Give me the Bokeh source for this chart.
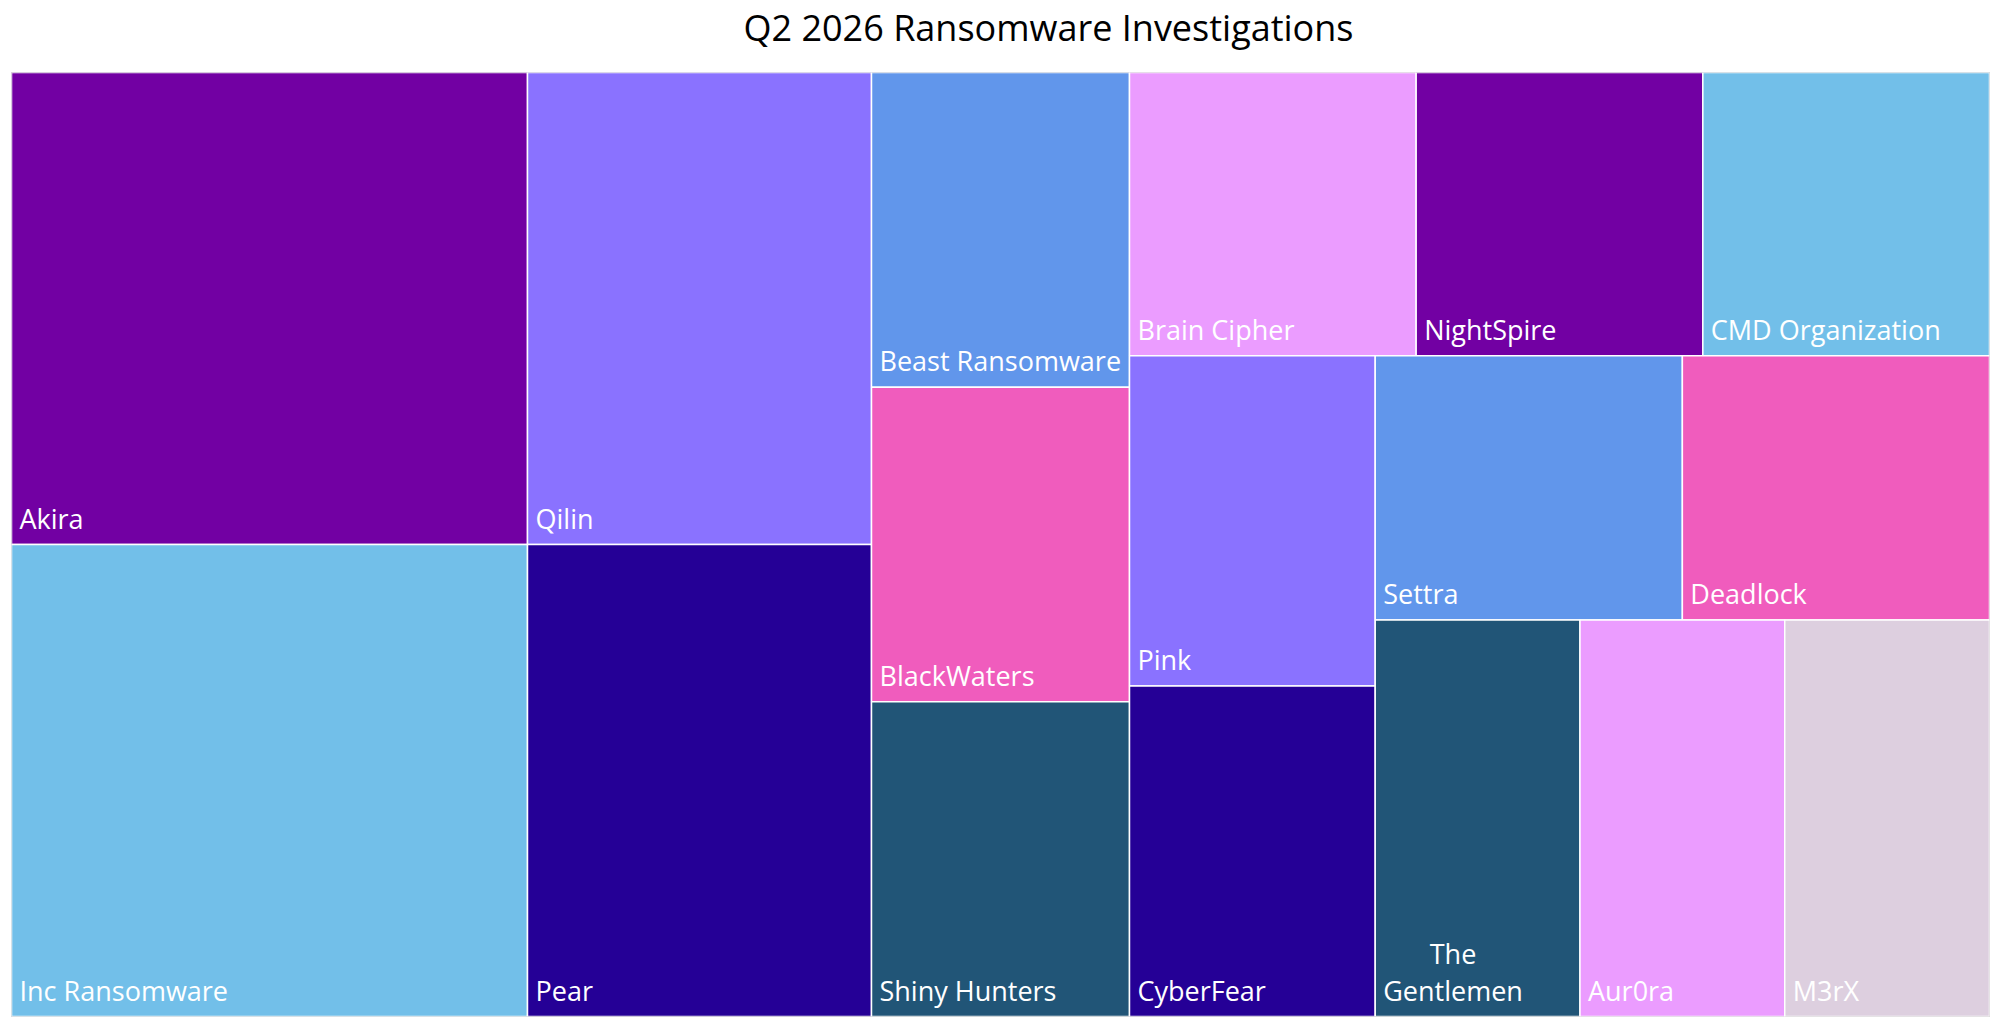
from bokeh.plotting import figure
from bokeh.models import ColumnDataSource, Range1d, Title
from bokeh.core.properties import value
from bokeh.embed import file_html
from bokeh.resources import INLINE

groups = ["Akira", "Inc Ransomware", "Qilin", "Pear", "Beast Ransomware",
          "BlackWaters", "Shiny Hunters", "Brain Cipher", "NightSpire",
          "CMD Organization", "Pink", "CyberFear", "Settra", "Deadlock",
          "The\nGentlemen", "Aur0ra", "M3rX"]
cases = [3, 3, 2, 2, 1, 1, 1, 1, 1, 1, 1, 1, 1, 1, 1, 1, 1]
colors = ["#7200a3", "#72bfe9", "#8a72ff", "#250096", "#6196eb", "#f05cbd",
          "#215577", "#eb9cff", "#7200a3", "#72bfe9", "#8a72ff", "#250096",
          "#6196eb", "#f05cbd", "#215577", "#eb9cff", "#ddcfdf"]
title_text = "Q2 2026 Ransomware Investigations"

W, H = 1978, 944


# squarified treemap (Bruls et al.)
def lay(sizes, x, y, dx, dy):
    out = []
    tot = sum(sizes)
    if dx >= dy:
        w = tot / dy
        for s in sizes:
            h = s / w
            out.append((x, y, w, h))
            y += h
    else:
        h = tot / dx
        for s in sizes:
            w = s / h
            out.append((x, y, w, h))
            x += w
    return out


def leftover(sizes, x, y, dx, dy):
    tot = sum(sizes)
    if dx >= dy:
        w = tot / dy
        return x + w, y, dx - w, dy
    h = tot / dx
    return x, y + h, dx, dy - h


def worst(sizes, x, y, dx, dy):
    return max(max(r[2] / r[3], r[3] / r[2]) for r in lay(sizes, x, y, dx, dy))


def squarify(sizes, x, y, dx, dy):
    if not sizes:
        return []
    if len(sizes) == 1:
        return lay(sizes, x, y, dx, dy)
    i = 1
    while i < len(sizes) and worst(sizes[:i], x, y, dx, dy) >= worst(sizes[:i + 1], x, y, dx, dy):
        i += 1
    cur, rest = sizes[:i], sizes[i:]
    lx, ly, ldx, ldy = leftover(cur, x, y, dx, dy)
    return lay(cur, x, y, dx, dy) + squarify(rest, lx, ly, ldx, ldy)


total = sum(cases)
norm = [c * W * H / total for c in cases]
rects = squarify(norm, 0, 0, W, H)

src = ColumnDataSource(dict(
    left=[r[0] for r in rects],
    right=[r[0] + r[2] for r in rects],
    top=[r[1] for r in rects],
    bottom=[r[1] + r[3] for r in rects],
    name=groups,
    color=colors,
))

p = figure(width=1999, height=1021, output_backend="svg", toolbar_location=None,
           x_range=Range1d(0, W), y_range=Range1d(H, 0),
           min_border_left=11, min_border_right=10, min_border_top=72, min_border_bottom=5,
           title=None)
p.axis.visible = False
p.grid.visible = False
p.outline_line_color = "#c4c4c4"
p.outline_line_width = 1
p.background_fill_color = "white"

# blank spacer between frame and title, then the title itself
p.add_layout(Title(text=" ", text_font_size="9px", standoff=9), "above")
p.add_layout(Title(text=title_text, text_font="Open Sans", text_font_size="36px",
                   text_font_style="normal", text_color="black", align="left",
                   offset=732, standoff=0, vertical_align="bottom"), "above")

p.quad(left="left", right="right", top="top", bottom="bottom", source=src,
       fill_color="color", line_color="white", line_width=1.5)

p.text(x="left", y="bottom", text="name", source=src, x_offset=8, y_offset=-8,
       text_font=value("Open Sans"), text_font_size="27px", text_color="white",
       text_align="center", anchor="bottom_left", text_baseline="bottom",
       text_line_height=1.0)

open("out.html", "w").write(file_html(p, INLINE))
